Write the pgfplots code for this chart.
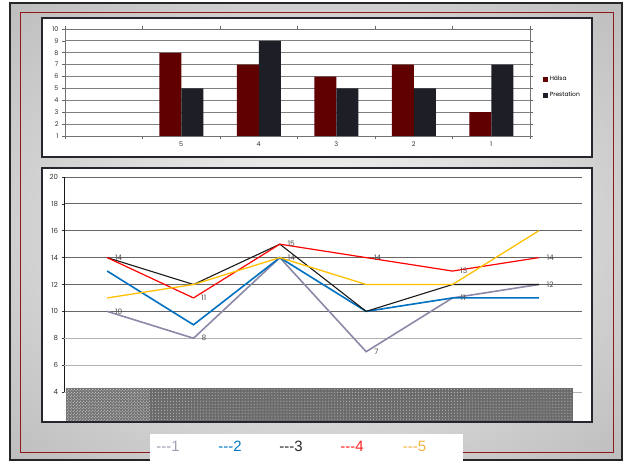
\documentclass[border=0pt]{standalone}
\usepackage{fontspec}
\setmainfont{Poppins}
\newfontfamily\arialf{Liberation Sans}
\usepackage{pgfplots}
\pgfplotsset{compat=1.18}
\usetikzlibrary{patterns}

\definecolor{halsa}{HTML}{600000}
\definecolor{prest}{HTML}{1E1F26}
\definecolor{sA}{HTML}{8C89A8}
\definecolor{sB}{HTML}{0070C0}
\definecolor{sC}{HTML}{1A1A1A}
\definecolor{sD}{HTML}{FF0000}
\definecolor{sE}{HTML}{FFC000}
\definecolor{panel}{HTML}{26262E}
\definecolor{frame}{HTML}{8B1A1A}
\pgfdeclareradialshading{bgshade}{\pgfpoint{0bp}{0bp}}{%
  color(0bp)=(black!4); color(22bp)=(black!17); color(45bp)=(black!32); color(72bp)=(black!40)}

\begin{document}
\begin{tikzpicture}[x=1bp,y=1bp]
% background
\fill[white] (0,0) rectangle (624,461);
\shade[shading=bgshade] (10,1) rectangle (622,458);
\draw[black!85, line width=2bp] (10,1) rectangle (622,458);
\draw[frame, line width=1bp] (20,8) rectangle (613,448);
% panels
\draw[fill=white, draw=panel, line width=2.5bp] (42,304) rectangle (592,443);
\draw[fill=white, draw=panel, line width=2.5bp] (42,39) rectangle (592,293);

% ---------- top bar chart ----------
\begin{axis}[
  at={(65bp,325bp)}, anchor=south west,
  scale only axis, width=465bp, height=107bp,
  xmin=-0.5, xmax=5.5, ymin=1, ymax=10,
  ytick={1,...,10},
  ymajorgrids,
  grid style={black!50, line width=0.8bp},
  axis line style={black!55, line width=0.8bp},
  xtick={-0.5,0.5,...,5.5}, xticklabels={},
  extra x ticks={1,2,3,4,5},
  extra x tick labels={5,4,3,2,1},
  extra x tick style={major tick length=0pt, xticklabel style={yshift=-2bp}},
  tick align=outside, major tick length=3bp,
  tick style={black!60, line width=0.6bp},
  ticklabel style={font=\fontsize{6.5}{7}\selectfont, text=black!80},
  /pgf/number format/assume math mode=true,
  ybar=0pt, bar width=22bp,
  legend style={at={(1.025,0.455)}, anchor=west, draw=none, fill=none,
    font=\fontsize{6}{7}\selectfont, row sep=6bp, inner sep=1bp},
  legend cell align=left,
  legend image code/.code={\fill[#1] (0bp,-2.5bp) rectangle (5bp,2.5bp);},
]
\addplot[fill=halsa, draw=none] coordinates {(1,8) (2,7) (3,6) (4,7) (5,3)};
\addlegendentry{Hälsa}
\addplot[fill=prest, draw=none] coordinates {(1,5) (2,9) (3,5) (4,5) (5,7)};
\addlegendentry{Prestation}
\end{axis}

% ---------- bottom line chart ----------
\begin{axis}[
  at={(64bp,69bp)}, anchor=south west,
  scale only axis, width=518bp, height=215bp,
  xmin=-0.5, xmax=5.5, ymin=4, ymax=20,
  axis x line=none,
  axis y line*=left,
  y axis line style={-, black!90, line width=1bp},
  ytick={10,12,...,20},
  extra y ticks={4,6,8},
  extra y tick style={major grid style={black!30, line width=0.9bp}},
  ymajorgrids,
  grid style={black!60, line width=0.8bp},
  tick align=outside, major tick length=2.5bp,
  tick style={black!80, line width=0.6bp},
  ticklabel style={font=\fontsize{7}{8}\selectfont, text=black!80},
  /pgf/number format/assume math mode=true,
  clip=false,
  every node near coord/.append style={anchor=west, xshift=4bp,
    font=\fontsize{7.5}{8}\selectfont, text=black!70},
]
\addplot[sA, line width=1.6bp, mark=none, nodes near coords]
  coordinates {(0,10) (1,8) (2,14) (3,7) (4,11) (5,12)};
\addplot[sB, line width=1.6bp, mark=none]
  coordinates {(0,13) (1,9) (2,14) (3,10) (4,11) (5,11)};
\addplot[sC, line width=1.1bp, mark=none]
  coordinates {(0,14) (1,12) (2,15) (3,10) (4,12) (5,12)};
\addplot[sD, line width=1.2bp, mark=none, nodes near coords]
  coordinates {(0,14) (1,11) (2,15) (3,14) (4,13) (5,14)};
\addplot[sE, line width=1.3bp, mark=none]
  coordinates {(0,11) (1,12) (2,14) (3,12) (4,12) (5,16)};
\end{axis}

% patterned band
\fill[black!55] (66,40) rectangle (150,73);
\fill[pattern=crosshatch dots, pattern color=white!90!black] (66,40) rectangle (150,73);
\fill[black!58] (150,40) rectangle (573,73);
\fill[pattern=dots, pattern color=white!85!black] (150,40) rectangle (573,73);

% bottom legend
\fill[white] (150,0) rectangle (463,27);
\begin{scope}[every node/.style={font=\arialf\fontsize{15}{16}\selectfont, inner sep=0pt}]
\node[text={rgb,255:red,160;green,160;blue,180}] at (168,15) {---1};
\node[text={rgb,255:red,0;green,120;blue,200}] at (230,15) {---2};
\node[text=black!85] at (291,15) {---3};
\node[text={rgb,255:red,255;green,32;blue,32}] at (352,15) {---4};
\node[text={rgb,255:red,245;green,179;blue,66}] at (414.5,15) {---5};
\end{scope}
\end{tikzpicture}
\end{document}
